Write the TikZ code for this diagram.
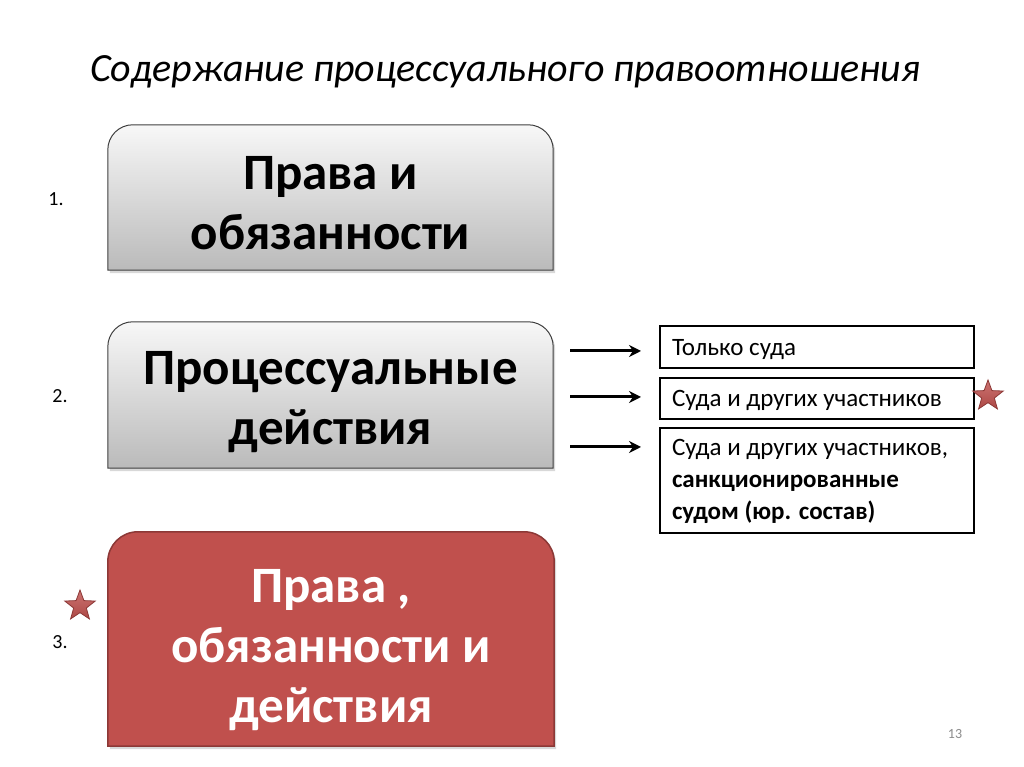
\documentclass[tikz,border=0pt]{standalone}
\usepackage{fontspec}
\setmainfont{Carlito}
\usetikzlibrary{shapes.geometric,shadows,calc,backgrounds,arrows.meta}
\definecolor{redbox}{HTML}{C0504D}
\definecolor{redline}{HTML}{8C3836}
\tikzset{
  bigtext/.style={align=center,font=\fontsize{51}{60}\selectfont\bfseries,inner sep=0pt},
  greybox/.style={draw=black!75,line width=1pt,top color=black!3,bottom color=black!27,
    drop shadow={shadow xshift=2pt,shadow yshift=-3pt,opacity=0.3}},
  redshape/.style={draw=redline,line width=1.5pt,fill=redbox,
    drop shadow={shadow xshift=2pt,shadow yshift=-3pt,opacity=0.3}},
  sidebox/.style={draw=black,line width=2pt,text width=290pt,align=flush left,inner xsep=12pt,
    font=\fontsize{25}{32}\selectfont,anchor=center},
  numlabel/.style={font=\fontsize{20}{24}\selectfont},
  arrowline/.style={line width=3pt,-{Stealth[length=12pt,width=12pt]}},
  starshape/.style={star,star points=5,star point ratio=2.4,minimum size=32pt,inner sep=0pt,
    top color=redbox!80,bottom color=redbox!90!black,draw=redline,line width=0.8pt}
}
\begin{document}
\begin{tikzpicture}[x=1pt,y=1pt]
\useasboundingbox (0,0) rectangle (1024,767);

% title
\node[font=\fontsize{40}{46}\selectfont\itshape] (title) at (505,695) {Содержание процессуального правоотношения};

% box frames (invisible nodes)
\node[minimum width=445pt,minimum height=145pt,inner sep=0pt] (b1) at (330.5,569.5) {};
\node[minimum width=445pt,minimum height=146pt,inner sep=0pt] (b2) at (330.5,372) {};
\node[minimum width=446pt,minimum height=214pt,inner sep=0pt] (b3) at (331,128) {};

\begin{scope}[on background layer]
\fill[white] (0,0) rectangle (1024,767);
\draw[greybox] (b1.south west) -- ([yshift=-25pt]b1.north west) arc[start angle=180,end angle=90,radius=25pt]
  -- ([xshift=-25pt]b1.north east) arc[start angle=90,end angle=0,radius=25pt] -- (b1.south east) -- cycle;
\draw[greybox] (b2.south west) -- ([yshift=-25pt]b2.north west) arc[start angle=180,end angle=90,radius=25pt]
  -- ([xshift=-25pt]b2.north east) arc[start angle=90,end angle=0,radius=25pt] -- (b2.south east) -- cycle;
\draw[redshape] (b3.south west) -- ([yshift=-30pt]b3.north west) arc[start angle=180,end angle=90,radius=30pt]
  -- ([xshift=-30pt]b3.north east) arc[start angle=90,end angle=0,radius=30pt] -- (b3.south east) -- cycle;
\end{scope}

\node[bigtext] (t1) at (330.5,564) {Права и\\обязанности};
\node[bigtext] (t2) at (330.5,365) {Процессуальные\\действия};
\node[bigtext,text=white] (t3) at (331,117) {Права ,\\обязанности и\\действия};

% numbers
\node[numlabel] (n1) at (56,568) {1.};
\node[numlabel] (n2) at (60,371) {2.};
\node[numlabel] (n3) at (60,125) {3.};

% side boxes
\node[sidebox,minimum height=42pt,text depth=0pt] (s1) at (817,420) {Только суда};
\node[sidebox,minimum height=41pt,text depth=0pt] (s2) at (817,368.5) {Суда и других участников};
\node[sidebox,minimum height=105pt] (s3) at (817,286) {Суда и других участников,\\\textbf{санкционированные}\\\textbf{судом (юр. состав)}};

% arrows
\coordinate (a1s) at (570,416);
\coordinate (a1e) at (641,416);
\coordinate (a2s) at (570,370);
\coordinate (a2e) at (641,370);
\coordinate (a3s) at (570,320);
\coordinate (a3e) at (641,320);
\draw[arrowline] (a1s) -- (a1e);
\draw[arrowline] (a2s) -- (a2e);
\draw[arrowline] (a3s) -- (a3e);

% stars
\node[starshape] (star1) at (988,371) {};
\node[starshape] (star2) at (80,161) {};

% page number
\node[font=\fontsize{14}{16}\selectfont,text=black!45] (pg) at (955,33) {13};
\end{tikzpicture}
\end{document}
